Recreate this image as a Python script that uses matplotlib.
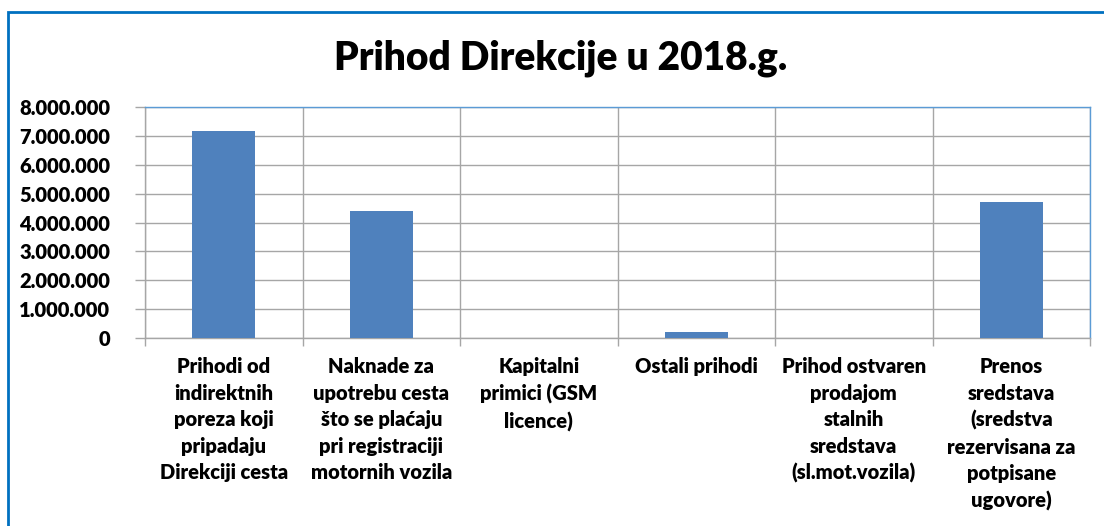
import matplotlib.pyplot as plt
import matplotlib.ticker as ticker
from matplotlib.patches import Rectangle
import numpy as np

# Data
categories = [
    "Prihodi od\nindirektnih\nporeza koji\npripadaju\nDirekciji cesta",
    "Naknade za\nupotrebu cesta\nšto se plaćaju\npri registraciji\nmotornih vozila",
    "Kapitalni\nprimici (GSM\nlicence)",
    "Ostali prihodi",
    "Prihod ostvaren\nprodajom\nstalnih\nsredstava\n(sl.mot.vozila)",
    "Prenos\nsredstava\n(sredstva\nrezervisana za\npotpisane\nugovore)",
]
values = [7170000, 4400000, 0, 220000, 0, 4710000]
y_ticks = [0, 1000000, 2000000, 3000000, 4000000, 5000000, 6000000, 7000000, 8000000]

plt.rcParams["font.family"] = ["Lato", "DejaVu Sans"]
plt.rcParams["font.weight"] = "heavy"

fig = plt.figure(figsize=(11.04, 5.26), dpi=100)
ax = fig.add_axes([145 / 1104, 1 - 338 / 526, (1090 - 145) / 1104, (338 - 107) / 526])

x = np.arange(len(categories))
ax.bar(x, values, width=0.4, color="#4F81BD", zorder=3)

ax.set_xlim(-0.5, len(categories) - 0.5)
ax.set_ylim(0, 8000000)
ax.set_yticks(y_ticks)
ax.yaxis.set_major_formatter(
    ticker.FuncFormatter(lambda v, p: f"{int(v):,}".replace(",", "."))
)

# category labels at centres, gridlines at boundaries
ax.set_xticks(x)
ax.set_xticklabels(categories, fontsize=14.5, fontweight="heavy", va="top", linespacing=1.46)
ax.tick_params(axis="x", which="major", length=0, pad=14)
ax.set_xticks(np.arange(len(categories) + 1) - 0.5, minor=True)
ax.tick_params(axis="x", which="minor", length=6, color="#A6A6A6", width=1)
ax.tick_params(axis="y", length=7, color="#A6A6A6", width=1, labelsize=14.5, pad=18)
for lab in ax.get_yticklabels():
    lab.set_fontweight("heavy")

ax.grid(True, axis="y", color="#A6A6A6", linewidth=1, zorder=0)
ax.grid(True, axis="x", which="minor", color="#A6A6A6", linewidth=1, zorder=0)

ax.spines["left"].set_color("#A6A6A6")
ax.spines["bottom"].set_color("#A6A6A6")
ax.spines["top"].set_color("#5B9BD5")
ax.spines["right"].set_color("#5B9BD5")
for s in ax.spines.values():
    s.set_linewidth(1)

fig.text(0.508, 1 - 58 / 526, "Prihod Direkcije u 2018.g.", ha="center", va="center",
         fontsize=28, fontweight="heavy")

# outer chart border (cropped at right and bottom)
fig.patches.append(Rectangle((8 / 1104, -0.1), 1.2, 1 - 12 / 526 + 0.1,
                             transform=fig.transFigure, fill=False,
                             edgecolor="#0070C0", linewidth=2))

fig.savefig("out.png", dpi=100)
